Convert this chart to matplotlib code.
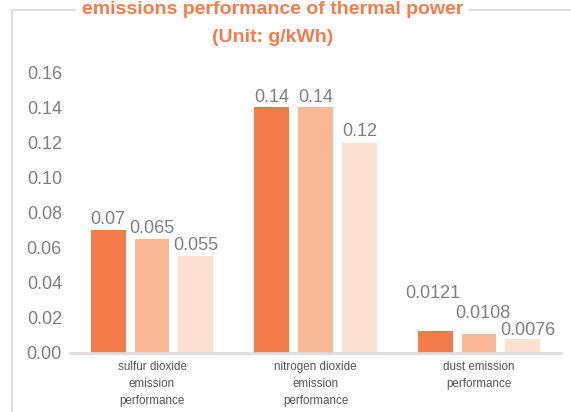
import matplotlib.pyplot as plt
from matplotlib.lines import Line2D
import numpy as np

categories = ["sulfur dioxide\nemission\nperformance",
              "nitrogen dioxide\nemission\nperformance",
              "dust emission\nperformance"]
series_a = [0.07, 0.14, 0.0121]
series_b = [0.065, 0.14, 0.0108]
series_c = [0.055, 0.12, 0.0076]
label_a = ["0.07", "0.14", "0.0121"]
label_b = ["0.065", "0.14", "0.0108"]
label_c = ["0.055", "0.12", "0.0076"]
yticks = [0.00, 0.02, 0.04, 0.06, 0.08, 0.10, 0.12, 0.14, 0.16]

colors = ["#F47B4A", "#F9B997", "#FDE0D1"]
title_color = "#F47C4C"
gray = "#7f7f7f"
frame = "#DDDDDD"

plt.rcParams['font.family'] = ['Liberation Sans', 'DejaVu Sans']

W, H = 571, 412
fig = plt.figure(figsize=(W / 100, H / 100), dpi=100)
ax = fig.add_axes([70.25 / W, 59.5 / H, 490.5 / W, 280 / H])

x = np.arange(len(categories))
width = 0.214
step = 0.269
# label offsets in pixels (dx, gap above bar), staggered for the small group
offsets = [
    [(0, 6), (0, 6), (-2, 33)],
    [(0, 6), (0, 6), (3.5, 16)],
    [(0, 6), (0, 6), (4.5, 4)],
]

for i, (vals, labs) in enumerate([(series_a, label_a), (series_b, label_b), (series_c, label_c)]):
    xs = x + (i - 1) * step
    ax.bar(xs, vals, width=width, color=colors[i], zorder=2)
    for j in range(len(xs)):
        dx, dy = offsets[i][j]
        ax.annotate(labs[j], (xs[j], vals[j]), xytext=(dx * 0.72, dy * 0.72),
                    textcoords="offset points", ha="center", va="baseline",
                    fontsize=13, color=gray)

ax.set_xlim(-0.5, 2.5)
ax.set_ylim(0, 0.16)
ax.set_yticks(yticks)
ax.set_yticklabels([f"{t:.2f}" for t in yticks])
ax.set_xticks(x)
ax.set_xticklabels(categories, fontsize=8.4, color="#555555", linespacing=1.55)
ax.tick_params(axis="y", length=0, pad=6, labelsize=13, labelcolor=gray)
ax.tick_params(axis="x", length=0, pad=6)
for s in ["top", "right", "left"]:
    ax.spines[s].set_visible(False)
ax.spines["bottom"].set_color(frame)
ax.spines["bottom"].set_linewidth(2)
ax.spines["bottom"].set_zorder(3)

# frame around the chart, broken by the title
fig.add_artist(Line2D([12 / W, 12 / W], [0, 1 - 10 / H], color=frame, lw=1.5,
                      transform=fig.transFigure))
fig.add_artist(Line2D([12 / W, 75 / W], [1 - 10 / H, 1 - 10 / H], color=frame, lw=1.5,
                      transform=fig.transFigure))
fig.add_artist(Line2D([470 / W, 1], [1 - 10 / H, 1 - 10 / H], color=frame, lw=1.5,
                      transform=fig.transFigure))

fig.text(273 / W, 1 - 10 / H, "emissions performance of thermal power", ha="center",
         va="center", fontsize=14, fontweight="bold", color=title_color)
fig.text(273 / W, 1 - 37 / H, "(Unit: g/kWh)", ha="center", va="center",
         fontsize=14, fontweight="bold", color=title_color)

fig.savefig("out.png", dpi=100)
